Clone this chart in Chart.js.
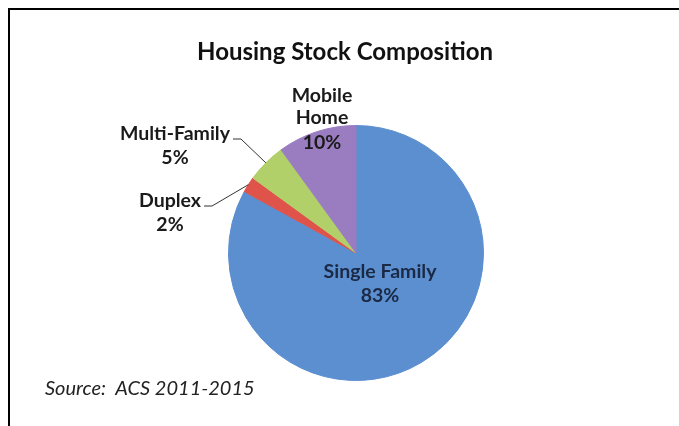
<!DOCTYPE html>
<html>
<head>
<meta charset="utf-8">
<script src="https://cdn.jsdelivr.net/npm/chart.js@4.4.1/dist/chart.umd.min.js"></script>
<style>
    html, body { margin: 0; padding: 0; background: #fff; }
    #wrap { position: relative; width: 679px; height: 426px; overflow: hidden; }
    #frame {
        position: absolute; left: 8px; top: 8px; right: 0; bottom: 0;
        border-top: 2px solid #000; border-left: 2px solid #000;
    }
    canvas { position: absolute; left: 0; top: 0; }
</style>
</head>
<body>
<div id="wrap">
    <div id="frame"></div>
    <canvas id="pieChart" width="679" height="426"></canvas>
</div>
<script>
// Data
const categories = ['Single Family', 'Duplex', 'Multi-Family', 'Mobile Home'];
const shares = [83, 2, 5, 10];
const chartTitle = 'Housing Stock Composition';
const sourceNote = 'Source:  ACS 2011-2015';

const sliceColors = ['#5b8fd0', '#e0534b', '#b2d06a', '#9a7dc0'];
const FONT = 'Lato, "Open Sans", sans-serif';

// Label placement relative to pie centre (px)
const labelLayout = [
    { lines: ['Single Family', '83%'], dx: 24, dy: [19, 43], color: '#1c2945' },
    { lines: ['Duplex', '2%'], dx: -186, dy: [-52, -28], color: '#1a1a1a', leader: true },
    { lines: ['Multi-Family', '5%'], dx: -181, dy: [-119, -95], color: '#1a1a1a', leader: true },
    { lines: ['Mobile', 'Home', '10%'], dx: -34, dy: [-157, -135, -110], color: '#1a1a1a' }
];

const labelPlugin = {
    id: 'pieLabels',
    afterDraw(chart) {
        const ctx = chart.ctx;
        const arcs = chart.getDatasetMeta(0).data;
        ctx.save();

        // Title
        ctx.fillStyle = '#111';
        ctx.font = `bold 24px ${FONT}`;
        ctx.textAlign = 'center';
        ctx.textBaseline = 'middle';
        ctx.fillText(chartTitle, 345, 52);

        // Source
        ctx.font = `italic 20px ${FONT}`;
        ctx.textAlign = 'left';
        ctx.fillStyle = '#222';
        ctx.fillText(sourceNote, 45, 389);

        arcs.forEach((arc, i) => {
            const p = arc.getProps(['x', 'y', 'startAngle', 'endAngle', 'outerRadius'], true);
            const lay = labelLayout[i];
            const lines = lay.lines.slice();
            lines[lines.length - 1] = shares[i] + '%';

            ctx.font = `bold 19.5px ${FONT}`;
            ctx.fillStyle = lay.color;
            ctx.textAlign = 'center';
            ctx.textBaseline = 'middle';
            const tx = p.x + lay.dx;
            lines.forEach((txt, k) => ctx.fillText(txt, tx, p.y + lay.dy[k]));

            if (lay.leader) {
                const mid = (p.startAngle + p.endAngle) / 2;
                const ex = p.x + Math.cos(mid) * p.outerRadius;
                const ey = p.y + Math.sin(mid) * p.outerRadius;
                const w = ctx.measureText(lines[0]).width;
                const sx = tx + w / 2 + 3;
                const sy = p.y + lay.dy[0] + 5;
                ctx.strokeStyle = '#333';
                ctx.lineWidth = 1;
                ctx.beginPath();
                ctx.moveTo(sx, sy);
                ctx.lineTo(sx + 8, sy);
                ctx.lineTo(ex, ey);
                ctx.stroke();
            }
        });
        ctx.restore();
    }
};

new Chart(document.getElementById('pieChart'), {
    type: 'pie',
    data: {
        labels: categories,
        datasets: [{
            data: shares,
            backgroundColor: sliceColors,
            borderColor: sliceColors,
            borderWidth: 1,
            hoverOffset: 0,
            offset: 0
        }]
    },
    options: {
        responsive: false,
        animation: false,
        devicePixelRatio: 1,
        layout: { padding: { left: 228, right: 195, top: 125, bottom: 45 } },
        plugins: {
            legend: { display: false },
            tooltip: { enabled: false },
            title: { display: false }
        }
    },
    plugins: [labelPlugin]
});
</script>
</body>
</html>
